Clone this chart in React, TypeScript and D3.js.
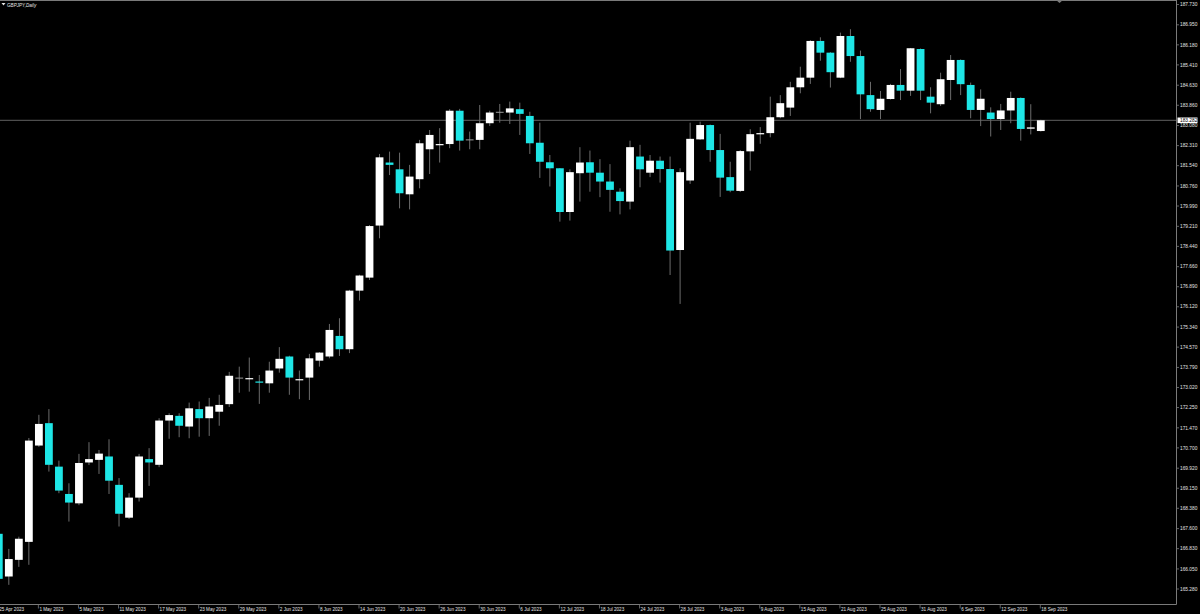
import { useMemo } from 'react';
import * as d3 from 'd3';

const dates = [
  '25 Apr 2023', '26 Apr 2023', '27 Apr 2023', '28 Apr 2023',
  '1 May 2023', '2 May 2023', '3 May 2023', '4 May 2023', '5 May 2023',
  '8 May 2023', '9 May 2023', '10 May 2023', '11 May 2023', '12 May 2023',
  '15 May 2023', '16 May 2023', '17 May 2023', '18 May 2023', '19 May 2023',
  '22 May 2023', '23 May 2023', '24 May 2023', '25 May 2023', '26 May 2023',
  '29 May 2023', '30 May 2023', '31 May 2023', '1 Jun 2023', '2 Jun 2023',
  '5 Jun 2023', '6 Jun 2023', '7 Jun 2023', '8 Jun 2023', '9 Jun 2023',
  '12 Jun 2023', '13 Jun 2023', '14 Jun 2023', '15 Jun 2023', '16 Jun 2023',
  '19 Jun 2023', '20 Jun 2023', '21 Jun 2023', '22 Jun 2023', '23 Jun 2023',
  '26 Jun 2023', '27 Jun 2023', '28 Jun 2023', '29 Jun 2023', '30 Jun 2023',
  '3 Jul 2023', '4 Jul 2023', '5 Jul 2023', '6 Jul 2023', '7 Jul 2023',
  '10 Jul 2023', '11 Jul 2023', '12 Jul 2023', '13 Jul 2023', '14 Jul 2023',
  '17 Jul 2023', '18 Jul 2023', '19 Jul 2023', '20 Jul 2023', '21 Jul 2023',
  '24 Jul 2023', '25 Jul 2023', '26 Jul 2023', '27 Jul 2023', '28 Jul 2023',
  '31 Jul 2023', '1 Aug 2023', '2 Aug 2023', '3 Aug 2023', '4 Aug 2023',
  '7 Aug 2023', '8 Aug 2023', '9 Aug 2023', '10 Aug 2023', '11 Aug 2023',
  '14 Aug 2023', '15 Aug 2023', '16 Aug 2023', '17 Aug 2023', '18 Aug 2023',
  '21 Aug 2023', '22 Aug 2023', '23 Aug 2023', '24 Aug 2023', '25 Aug 2023',
  '28 Aug 2023', '29 Aug 2023', '30 Aug 2023', '31 Aug 2023', '1 Sep 2023',
  '4 Sep 2023', '5 Sep 2023', '6 Sep 2023', '7 Sep 2023', '8 Sep 2023',
  '11 Sep 2023', '12 Sep 2023', '13 Sep 2023', '14 Sep 2023', '15 Sep 2023',
  '18 Sep 2023',
];

const opens = [
  167.40, 165.76, 166.40, 167.09, 170.79, 171.65, 169.98, 168.93, 168.57, 170.14,
  170.24, 170.37, 169.28, 168.02, 168.79, 170.27, 170.05, 171.75, 171.93, 171.52,
  172.19, 171.84, 172.09, 172.38, 173.38, 173.34, 173.25, 173.18, 173.75, 174.21,
  173.30, 173.40, 174.05, 174.21, 175.00, 174.49, 176.74, 177.24, 179.24, 181.66,
  181.40, 180.44, 181.02, 182.17, 182.33, 182.37, 183.65, 182.53, 182.53, 183.17,
  183.59, 183.58, 183.71, 183.45, 182.42, 181.67, 181.44, 179.76, 181.25, 181.67,
  181.27, 180.93, 180.54, 180.16, 181.89, 181.27, 181.73, 181.41, 178.30, 180.97,
  182.55, 183.10, 182.14, 181.10, 180.57, 182.09, 182.75, 182.79, 183.40, 183.77,
  184.55, 184.92, 186.33, 185.88, 184.92, 186.52, 185.75, 184.25, 183.68, 184.10,
  184.64, 184.42, 186.02, 184.19, 183.90, 184.83, 185.60, 184.64, 183.68, 183.58,
  183.33, 183.66, 184.14, 182.96, 182.87,
];

const highs = [
  167.55, 166.82, 167.29, 171.08, 171.97, 172.19, 170.21, 169.34, 170.47, 170.92,
  170.62, 171.03, 169.54, 168.96, 170.47, 170.69, 171.84, 172.03, 172.03, 172.44,
  172.48, 172.62, 172.74, 173.62, 173.82, 174.17, 173.50, 174.01, 174.57, 174.24,
  173.67, 174.31, 174.38, 175.46, 175.68, 176.77, 177.35, 179.26, 181.99, 182.08,
  182.04, 181.57, 182.53, 182.91, 182.98, 183.71, 183.72, 182.85, 183.87, 183.65,
  183.91, 184.00, 183.96, 183.61, 183.19, 181.95, 181.45, 181.40, 182.25, 182.12,
  181.79, 181.60, 180.67, 182.50, 182.34, 181.95, 181.89, 181.89, 181.44, 183.19,
  183.23, 183.12, 182.76, 181.69, 182.14, 182.94, 183.02, 184.19, 184.25, 184.76,
  185.34, 186.36, 186.47, 185.90, 186.65, 186.78, 185.96, 184.76, 184.41, 184.68,
  185.25, 186.06, 186.04, 184.55, 185.11, 185.79, 185.62, 184.73, 184.47, 183.78,
  183.91, 184.38, 184.16, 183.90, 183.30,
];

const lows = [
  165.48, 165.44, 166.13, 166.21, 170.74, 169.79, 168.96, 167.87, 168.50, 170.04,
  169.70, 168.93, 167.68, 167.97, 168.64, 169.24, 169.96, 171.05, 171.11, 171.07,
  171.13, 171.16, 171.55, 172.27, 172.82, 172.86, 172.39, 172.82, 173.59, 172.74,
  172.57, 172.54, 173.82, 174.14, 174.23, 174.34, 176.36, 177.15, 178.75, 181.18,
  179.90, 179.86, 180.67, 181.22, 181.66, 182.21, 182.12, 182.17, 182.17, 183.06,
  183.19, 183.14, 182.72, 181.99, 181.07, 180.74, 179.39, 179.43, 180.16, 180.54,
  180.33, 179.77, 179.67, 179.86, 180.71, 181.10, 180.89, 177.34, 176.23, 180.84,
  182.53, 181.69, 180.34, 180.52, 180.53, 181.35, 182.38, 182.63, 183.36, 183.45,
  184.32, 184.68, 185.57, 184.54, 184.90, 185.53, 183.33, 183.61, 183.33, 184.08,
  184.06, 184.22, 184.06, 183.55, 183.83, 184.06, 184.25, 183.36, 183.06, 182.66,
  182.91, 183.17, 182.50, 182.74, 182.85,
];

const closes = [
  165.67, 166.43, 167.21, 170.98, 171.62, 170.05, 169.06, 168.60, 170.12, 170.27,
  170.48, 169.44, 168.17, 168.79, 170.37, 170.14, 171.75, 171.96, 171.55, 172.22,
  171.84, 172.29, 172.35, 173.47, 173.38, 173.38, 173.21, 173.67, 174.12, 173.40,
  173.34, 174.14, 174.36, 175.23, 174.49, 176.74, 177.32, 179.22, 181.86, 181.57,
  180.48, 181.12, 182.40, 182.72, 182.37, 183.65, 182.50, 182.53, 183.17, 183.58,
  183.59, 183.74, 183.53, 182.40, 181.69, 181.44, 179.76, 181.29, 181.66, 181.27,
  180.93, 180.61, 180.18, 182.25, 181.40, 181.73, 181.41, 178.28, 181.29, 182.57,
  183.10, 182.14, 181.08, 180.58, 182.10, 182.75, 182.79, 183.40, 183.94, 184.55,
  184.92, 186.33, 185.88, 185.13, 186.52, 185.75, 184.28, 183.71, 184.11, 184.64,
  184.42, 186.05, 184.42, 183.96, 184.86, 185.60, 184.67, 183.68, 184.11, 183.33,
  183.66, 184.14, 182.95, 183.01, 183.282,
];

const priceTicks = [
  187.73, 186.95, 186.18, 185.41, 184.63, 183.86, 183.08, 182.31, 181.54, 180.76,
  179.99, 179.21, 178.44, 177.66, 176.89, 176.12, 175.34, 174.57, 173.79, 173.02,
  172.25, 171.47, 170.7, 169.92, 169.15, 168.38, 167.6, 166.83, 166.05, 165.28,
];

const symbol = 'GBPJPY,Daily';
const lastPrice = 183.282;

const W = 1200;
const H = 614;
const plotRight = 1176.5;
const plotBottom = 604.5;
const BG = '#000000';
const GRID = '#7a7a7a';
const WICK = '#6c6c6c';
const BULL = '#ffffff';
const BEAR = '#1ee6e6';
const TEXT = '#e4e4e4';
const FONT = '"Liberation Sans", Arial, sans-serif';

export default function App() {
  const x = useMemo(() => d3.scaleLinear().domain([0, dates.length - 1]).range([-1.2, 1040.8]), []);
  const y = useMemo(() => d3.scaleLinear().domain([165.28, 187.73]).range([589, 4.5]), []);
  const bodyW = 7.8;

  const candles = dates.map((d, i) => {
    const o = opens[i], c = closes[i];
    const top = y(Math.max(o, c));
    const bot = y(Math.min(o, c));
    const kind = o === c ? 'doji' : c > o ? 'bull' : 'bear';
    return { d, i, cx: x(i), hi: y(highs[i]), lo: y(lows[i]), top, bot, kind };
  });

  return (
    <svg
      width={W}
      height={H}
      style={{ position: 'absolute', left: 0, top: 0, background: BG, display: 'block' }}
      fontFamily={FONT}
    >
      <defs>
        <clipPath id="plot">
          <rect x={0} y={0} width={plotRight} height={plotBottom} />
        </clipPath>
      </defs>
      <rect x={0} y={0} width={W} height={H} fill={BG} />

      {/* frame */}
      <line x1={0} x2={plotRight} y1={0.5} y2={0.5} stroke={GRID} strokeWidth={1} />
      <line x1={plotRight} x2={plotRight} y1={0} y2={plotBottom} stroke={GRID} strokeWidth={1} />
      <line x1={0} x2={plotRight} y1={plotBottom} y2={plotBottom} stroke={GRID} strokeWidth={1} />

      {/* chart shift marker */}
      <path d="M1056,0 L1063,0 L1059.5,3 Z" fill={GRID} />

      <g clipPath="url(#plot)">
        {/* last price line */}
        <line x1={0} x2={plotRight} y1={y(lastPrice)} y2={y(lastPrice)} stroke={GRID} strokeWidth={0.8} />

        {candles.map(c => (
          <g key={c.i}>
            <line x1={c.cx} x2={c.cx} y1={c.hi} y2={c.lo} stroke={WICK} strokeWidth={1} />
            {c.kind === 'doji' ? (
              <line x1={c.cx - bodyW / 2} x2={c.cx + bodyW / 2} y1={c.top} y2={c.top} stroke="#9a9a9a" strokeWidth={1} />
            ) : (
              <rect
                x={c.cx - bodyW / 2}
                y={c.top}
                width={bodyW}
                height={Math.max(1.2, c.bot - c.top)}
                fill={c.kind === 'bull' ? BULL : BEAR}
              />
            )}
          </g>
        ))}
      </g>

      {/* title */}
      <path d="M1.5,3 L5.5,3 L3.5,5.5 Z" fill={TEXT} />
      <text x={7} y={6.8} fontSize={4.6} fill={TEXT} fontStyle="italic">{symbol}</text>

      {/* price axis */}
      {priceTicks.map(p => (
        <g key={p} transform={`translate(${plotRight},${y(p)})`}>
          <line x1={0} x2={2.5} y1={0} y2={0} stroke={GRID} strokeWidth={0.8} />
          <text x={3.5} y={0} dy="0.35em" fontSize={4.8} fill={TEXT}>{p.toFixed(3)}</text>
        </g>
      ))}
      <g transform={`translate(${plotRight + 1},${y(lastPrice)})`}>
        <rect x={0} y={-2.8} width={20} height={5.6} fill="#ffffff" />
        <text x={2.5} y={0} dy="0.35em" fontSize={4.8} fill="#000000">{lastPrice.toFixed(3)}</text>
      </g>

      {/* time axis */}
      {candles.filter(c => c.i % 4 === 0).map(c => (
        <g key={c.d} transform={`translate(${c.cx - 0.5},${plotBottom})`}>
          <line x1={0} x2={0} y1={0} y2={4} stroke={GRID} strokeWidth={0.8} />
          <text x={1} y={6.2} fontSize={4.6} fill={TEXT}>{c.d}</text>
        </g>
      ))}
    </svg>
  );
}
